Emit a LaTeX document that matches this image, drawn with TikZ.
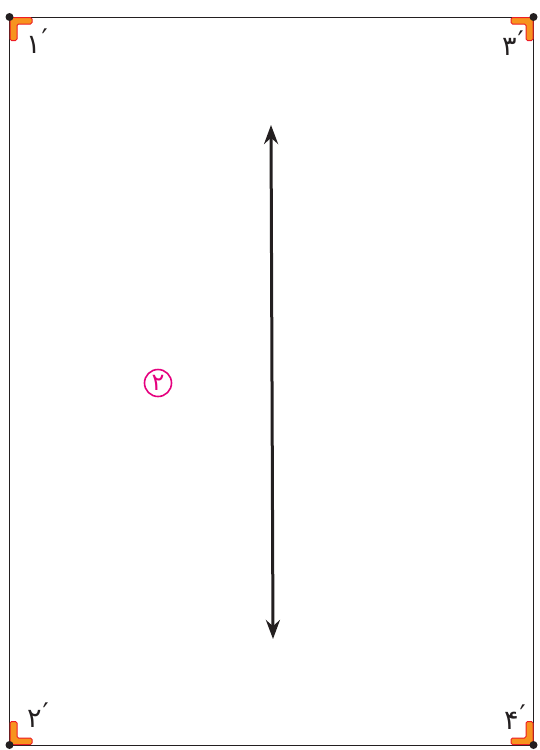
\documentclass[tikz,border=0pt]{standalone}
\usepackage{fontspec}
\newfontfamily\farsifont{DejaVu Sans}
\usepackage{tikz}
\usetikzlibrary{arrows.meta, positioning}
\definecolor{cornerorange}{HTML}{F7931E}
\definecolor{cornerred}{HTML}{ED1C24}
\definecolor{inkdark}{HTML}{231F20}
\definecolor{stepmagenta}{HTML}{E5007E}
\tikzstyle{frame}      = [draw=inkdark, line width=1pt]
\tikzstyle{cornerbit}  = [fill=cornerorange, draw=cornerred, line width=1pt, rounded corners=1.5pt]
\tikzstyle{pin}        = [circle, fill=inkdark, inner sep=0pt, minimum size=8pt]
\tikzstyle{cornerlbl}  = [font=\farsifont\fontsize{27}{27}\selectfont, text=inkdark, inner sep=0pt]
\tikzstyle{steplbl}    = [circle, draw=stepmagenta, line width=1.6pt, minimum size=27pt, inner sep=0pt,
                          text=stepmagenta, font=\farsifont\fontsize{24}{24}\selectfont]
\tikzstyle{twoway}     = [line width=3pt, draw=inkdark, {Stealth[length=19pt,width=14pt]}-{Stealth[length=19pt,width=14pt]}]
\newcommand{\cornerpiece}[3]{%
  \begin{scope}[shift={(#1,#2)}, #3]
    \draw[cornerbit] (0,0) -- (22,0) -- (22,6.5) -- (7,6.5) -- (7,23) -- (0,23) -- cycle;
  \end{scope}}
\newcommand{\primed}[1]{#1\kern1pt\raisebox{5pt}{′}}

\begin{document}
\begin{tikzpicture}[x=1pt, y=-1pt]
  \useasboundingbox (0,0) rectangle (539,750);

  % sheet outline
  \coordinate (tl) at (9.5,17);
  \coordinate (tr) at (533.5,17);
  \coordinate (bl) at (9.5,745);
  \coordinate (br) at (533.5,745);
  \draw[frame] (tl) -- (tr) -- (br) -- (bl) -- cycle;

  % corner pieces
  \cornerpiece{10}{17.5}{}
  \cornerpiece{533}{17.5}{xscale=-1}
  \cornerpiece{10}{744.5}{yscale=-1}
  \cornerpiece{533}{744.5}{xscale=-1, yscale=-1}

  \node[pin] (ptl) at (tl) {};
  \node[pin] (ptr) at (tr) {};
  \node[pin] (pbl) at (bl) {};
  \node[pin] (pbr) at (br) {};

  % corner numbers
  \node[cornerlbl] (n1) at (37,41)  {\primed{۱}};
  \node[cornerlbl] (n3) at (513,43) {\primed{۳}};
  \node[cornerlbl] (n2) at (38,715) {\primed{۲}};
  \node[cornerlbl] (n4) at (515,717) {\primed{۴}};

  % step mark and fold direction
  \node[steplbl] (st) at (158,383) {۲};
  \coordinate (up) at (271,125);
  \coordinate (down) at (273,639);
  \draw[twoway] (up) -- (down);
\end{tikzpicture}
\end{document}
